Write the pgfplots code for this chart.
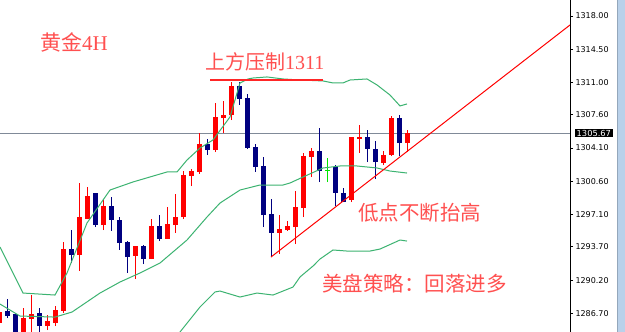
\documentclass[border=0pt]{standalone}
\usepackage{fontspec}
\setmainfont{DejaVu Sans}
\newfontfamily\cjk{Noto Sans CJK SC}
\newfontfamily\lserif{Liberation Serif}
\usepackage{pgfplots}
\usepackage{pgfplotstable}
\pgfplotsset{compat=1.18}
\definecolor{bull}{RGB}{255,0,0}
\definecolor{bear}{RGB}{0,0,128}
\definecolor{band}{RGB}{60,179,113}
\definecolor{note}{RGB}{255,80,80}
\definecolor{pline}{RGB}{128,138,152}
\definecolor{strip}{RGB}{185,209,234}
\definecolor{doji}{RGB}{0,230,0}

% i  high  low  bodytop  bodybottom
\pgfplotstableread{
i hi lo top bot
0 1286.95 1285.37 1286.84 1285.68
3 1287.26 1283.68 1286.21 1284.31
4 1288.63 1283.89 1286.63 1286.10
6 1286.52 1284.95 1285.89 1285.37
7 1287.47 1285.37 1287.05 1285.68
8 1294.21 1286.73 1293.47 1286.95
10 1300.42 1291.16 1296.84 1292.84
11 1300.00 1296.63 1299.05 1296.63
13 1298.63 1295.47 1298.00 1296.00
17 1293.79 1290.31 1293.79 1292.74
19 1296.63 1292.42 1295.89 1292.42
21 1297.89 1294.53 1296.10 1294.53
22 1299.26 1295.16 1296.84 1296.00
23 1301.68 1296.63 1301.26 1296.84
24 1301.89 1300.10 1301.68 1301.16
25 1305.68 1301.37 1304.53 1301.58
27 1308.84 1303.68 1307.37 1303.89
28 1309.05 1305.68 1307.58 1307.26
29 1311.05 1307.05 1310.63 1307.58
35 1297.05 1292.95 1295.58 1295.16
36 1296.42 1295.37 1295.89 1295.47
37 1299.58 1294.00 1297.89 1295.79
38 1303.58 1296.84 1303.26 1297.79
39 1304.10 1301.05 1303.79 1303.16
44 1305.26 1298.42 1305.26 1298.63
45 1306.53 1303.58 1305.26 1305.05
48 1303.79 1302.31 1303.37 1302.52
49 1307.47 1303.26 1307.26 1303.37
51 1306.00 1303.68 1305.68 1304.63
}\bulltab

\pgfplotstableread{
i hi lo top bot
1 1288.21 1286.21 1286.95 1286.42
2 1286.73 1283.89 1286.63 1284.42
5 1287.26 1283.89 1286.73 1285.37
9 1295.47 1292.00 1293.47 1292.84
12 1299.37 1295.79 1299.37 1296.00
14 1298.95 1295.37 1298.00 1296.53
15 1296.84 1293.37 1296.53 1294.10
16 1294.31 1290.95 1294.21 1292.63
18 1293.89 1291.89 1293.79 1292.42
20 1297.05 1294.31 1295.89 1294.53
26 1305.05 1303.37 1304.53 1303.89
30 1311.05 1308.63 1310.63 1309.26
31 1309.79 1304.00 1309.37 1304.10
32 1304.53 1301.58 1304.21 1302.10
33 1303.16 1295.79 1302.21 1297.05
34 1298.74 1292.63 1297.16 1295.16
40 1306.21 1300.52 1303.79 1301.68
42 1302.31 1298.00 1302.10 1299.37
43 1299.89 1298.42 1299.37 1298.42
46 1306.00 1302.63 1305.26 1304.00
47 1304.84 1300.84 1304.00 1302.63
50 1307.58 1303.26 1307.26 1304.63
}\beartab

\pgfplotstableread{
i hi lo top bot
41 1303.05 1300.52 1301.84 1301.74
}\dojitab

\pgfplotstableread{
i p
0.125 1293.68
3.0 1288.84
7.0 1288.63
8.5 1290.95
11.0 1296.21
13.875 1299.68
16.75 1300.53
21.0 1301.58
22.25 1301.58
23.5 1302.84
25.125 1304.10
26.75 1304.95
28.875 1307.37
30.125 1310.95
31.125 1311.37
31.75 1311.47
33.5 1311.58
35.5 1311.37
37.625 1311.26
40.5 1311.16
41.75 1310.95
43.0 1310.95
43.875 1311.26
46.0 1311.37
47.25 1310.74
48.875 1309.68
50.125 1308.53
51.0 1308.74
}\uppertab

\pgfplotstableread{
i p
0.125 1287.68
2.625 1286.42
7.0 1286.31
9.125 1286.84
12.625 1288.84
15.125 1290.00
17.625 1290.95
20.125 1292.00
23.5 1294.42
26.0 1296.84
27.625 1298.31
30.125 1299.68
32.625 1300.21
35.5 1300.21
36.375 1300.42
38.0 1301.05
40.5 1302.00
42.625 1302.21
44.75 1302.21
47.25 1302.00
48.875 1301.68
51.0 1301.47
}\midtab

\pgfplotstableread{
i p
21.375 1283.37
22.625 1284.74
25.125 1287.37
27.0 1288.95
27.625 1289.05
30.125 1288.42
32.25 1288.84
34.25 1288.63
36.75 1289.47
37.625 1290.53
39.25 1291.68
40.125 1292.42
41.75 1293.37
43.5 1293.26
46.375 1293.26
47.625 1293.47
50.125 1294.42
51.0 1294.31
}\lowtab

\pgfplotsset{
  wick/.style={#1, line width=1bp, mark=none, forget plot,
    quiver={u=0, v=\thisrow{hi}-\thisrow{lo}}},
  body/.style={#1, line width=5bp, line cap=butt, mark=none, forget plot,
    quiver={u=0, v=\thisrow{top}-\thisrow{bot}}},
}

\begin{document}
\begin{tikzpicture}
\fill[white] (0,0) rectangle (625bp,332bp);
\fill[strip] (617bp,0) rectangle (625bp,332bp);
\draw[strip!80!black, line width=0.6bp] (617.3bp,0) -- (617.3bp,332bp);
\begin{axis}[
  at={(0,0)}, anchor=south west,
  width=570bp, height=332bp, scale only axis,
  xmin=0.125, xmax=71.375, ymin=1284.74, ymax=1319.68,
  clip mode=individual,
  axis x line=none, axis y line*=right,
  y axis line style={-, black, line width=1bp},
  ytick={1318,1314.5,1311,1307.6,1304.1,1300.6,1297.1,1293.7,1290.2,1286.7},
  tick align=outside, major tick length=3bp,
  ytick style={black, line width=0.8bp},
  yticklabel style={font=\fontsize{8bp}{9bp}\selectfont, xshift=-1bp,
    /pgf/number format/.cd, fixed, fixed zerofill, precision=2, 1000 sep={}, assume math mode=true},
]
% current price line
\addplot[pline, line width=1bp, forget plot] coordinates {(0.125,1305.67) (71.375,1305.67)};

% wicks
\addplot[wick=bull] table[x=i, y=lo] {\bulltab};
\addplot[wick=bear] table[x=i, y=lo] {\beartab};
\addplot[wick=doji] table[x=i, y=lo] {\dojitab};
% bodies
\addplot[body=bull] table[x=i, y=bot] {\bulltab};
\addplot[body=bear] table[x=i, y=bot] {\beartab};
\addplot[body=doji] table[x=i, y=bot] {\dojitab};

% Bollinger bands
\addplot[band, line width=1bp, mark=none] table[x=i, y=p] {\uppertab};
\addplot[band, line width=1bp, mark=none] table[x=i, y=p] {\midtab};
\addplot[band, line width=1bp, mark=none] table[x=i, y=p] {\lowtab};

% trend line and resistance line
\addplot[red, line width=1bp, mark=none] coordinates {(34,1292.63) (71.375,1317.05)};
\addplot[red!85!white, line width=2bp, mark=none] coordinates {(26.375,1311.23) (40.5,1311.23)};

% annotations
\node[anchor=west, inner sep=0, text=note, font=\fontsize{21bp}{21bp}\selectfont] at (axis cs:5.125,1315.26) {\cjk 黄金\lserif 4H};
\node[anchor=west, inner sep=0, text=note, font=\fontsize{20bp}{20bp}\selectfont] at (axis cs:25.75,1313.21) {\cjk 上方压制\lserif 1311};
\node[anchor=west, inner sep=0, text=note, font=\fontsize{20.5bp}{21bp}\selectfont] at (axis cs:44.875,1297.32) {\cjk 低点不断抬高};
\node[anchor=west, inner sep=0, text=note, font=\fontsize{20.5bp}{21bp}\selectfont] at (axis cs:40.375,1289.79) {\cjk 美盘策略：回落进多};

% current price tag
\node[anchor=west, fill=black, text=white, inner xsep=1.5bp, inner ysep=1.2bp, xshift=5bp,
  font=\fontsize{8.3bp}{9bp}\selectfont] at (axis cs:71.375,1305.67) {1305.67};
\end{axis}
\pgfresetboundingbox
\useasboundingbox (0,0) rectangle (625bp,332bp);
\end{tikzpicture}
\end{document}
